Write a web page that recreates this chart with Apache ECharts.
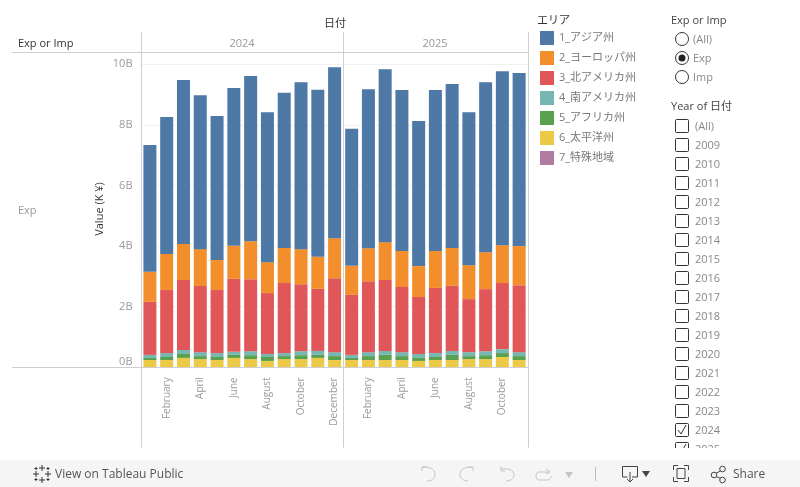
<!DOCTYPE html>
<html><head><meta charset="utf-8">
<script src="https://cdn.jsdelivr.net/npm/echarts@6/dist/echarts.min.js"></script>
<style>html,body{margin:0;padding:0;background:#fff}#c{width:800px;height:487px}</style>
</head><body><div id="c"></div>
<script>
const FONT = '"Open Sans","Noto Sans CJK JP",sans-serif';
const months2024 = ['January','February','March','April','May','June','July','August','September','October','November','December'];
const months2025 = ['January','February','March','April','May','June','July','August','September','October','November'];
const areas = ['1_アジア州','2_ヨーロッパ州','3_北アメリカ州','4_南アメリカ州','5_アフリカ州','6_太平洋州','7_特殊地域'];
const colors = ['#4e79a7','#f28e2b','#e15759','#76b7b2','#59a14f','#edc948','#b07aa1'];
// values in billions of yen
const asia2024 = [4.19,4.52,5.41,5.08,4.75,5.21,5.45,4.95,5.12,5.51,5.51,5.64];
const europe2024 = [0.99,1.19,1.19,1.22,0.99,1.09,1.25,1.02,1.16,1.16,1.06,1.32];
const northAm2024 = [1.75,2.08,2.31,2.18,2.08,2.41,2.38,2.01,2.31,2.21,2.05,2.44];
const southAm2024 = [0.10,0.13,0.13,0.13,0.13,0.10,0.13,0.10,0.10,0.13,0.13,0.13];
const africa2024 = [0.07,0.10,0.13,0.10,0.10,0.10,0.13,0.13,0.10,0.13,0.10,0.13];
const pacific2024 = [0.24,0.24,0.31,0.27,0.24,0.31,0.27,0.21,0.27,0.27,0.31,0.24];
const special2024 = [0,0,0,0,0,0,0,0,0,0,0,0];
const asia2025 = [4.52,5.25,5.71,5.31,4.79,5.31,5.41,5.05,5.61,5.74,5.71];
const europe2025 = [0.96,1.09,1.25,1.19,1.02,1.22,1.25,1.12,1.22,1.25,1.29];
const northAm2025 = [1.98,2.34,2.34,2.15,1.88,2.15,2.15,1.75,2.05,2.18,2.21];
const southAm2025 = [0.10,0.13,0.13,0.13,0.13,0.13,0.13,0.13,0.13,0.13,0.13];
const africa2025 = [0.07,0.13,0.17,0.13,0.10,0.10,0.17,0.10,0.13,0.13,0.13];
const pacific2025 = [0.24,0.24,0.24,0.24,0.21,0.24,0.24,0.27,0.27,0.34,0.24];
const special2025 = [0,0,0,0,0,0,0,0,0,0,0];
const yearFilter = ['(All)','2009','2010','2011','2012','2013','2014','2015','2016','2017','2018','2019','2020','2021','2022','2023','2024','2025'];
const checkedYears = ['2024','2025'];
const radioOptions = ['(All)','Exp','Imp'];
const selectedRadio = 'Exp';

const data2024 = [asia2024,europe2024,northAm2024,southAm2024,africa2024,pacific2024,special2024];
const data2025 = [asia2025,europe2025,northAm2025,southAm2025,africa2025,pacific2025,special2025];

const series = [];
for (let i = areas.length - 1; i >= 0; i--) {
  [[data2024,0,'a'],[data2025,1,'b']].forEach(([d,idx,st]) => series.push({
    name: areas[i], type:'bar', stack:st, xAxisIndex:idx, yAxisIndex:idx,
    barWidth:13, data:d[i], itemStyle:{color:colors[i]}, silent:true, animation:false
  }));
}
const xAxisBase = (cats) => ({
  type:'category', data:cats, axisLine:{show:false}, axisTick:{show:false}, splitLine:{show:false},
  axisLabel:{rotate:90, margin:10, fontSize:10, color:'#9a9a9a', fontFamily:FONT, interval:(i)=>i%2===1}
});
const gridLine = {show:true, lineStyle:{color:'#f0f0f0', width:1}};

const g = [];
const text = (x,y,t,o={}) => g.push({type:'text',x,y:y+1,z:o.z||5,rotation:o.rotation||0,style:{text:t,fontFamily:FONT,fontSize:o.size||11,fill:o.fill||'#666',fontWeight:o.weight||'normal',align:o.align||'left',verticalAlign:'middle'}});
const line = (x1,y1,x2,y2,c='#cfcfcf',w=1,z=3) => g.push({type:'line',z,shape:{x1,y1,x2,y2},style:{stroke:c,lineWidth:w}});

// headers and pane rules
line(12,52.5,528,52.5); line(12,367.5,528,367.5);
line(141.5,32,141.5,447.5); line(343.5,32,343.5,447.5); line(528.5,32,528.5,447.5);
text(335,23,'日付',{fill:'#333',align:'center',size:11});
text(18,43,'Exp or Imp',{fill:'#333',size:11});
text(242,43,'2024',{fill:'#999',align:'center'});
text(435,43,'2025',{fill:'#999',align:'center'});
text(18,210,'Exp',{fill:'#999',size:11});
text(100,208,'Value (K ¥)',{fill:'#333',align:'center',size:11,rotation:Math.PI/2});
// legend title
text(537,20,'エリア',{fill:'#333',size:11});
// radio filter
text(671,20,'Exp or Imp',{fill:'#444',size:11});
radioOptions.forEach((r,i)=>{
  const y=39+19*i;
  g.push({type:'circle',z:6,shape:{cx:682,cy:y,r:6.5},style:{stroke:'#333',fill:'#fff',lineWidth:1}});
  if(r===selectedRadio) g.push({type:'circle',z:7,shape:{cx:682,cy:y,r:3.5},style:{fill:'#222'}});
  text(693,y,r,{fill:'#888',size:11});
});
// year filter
text(671,106,'Year of 日付',{fill:'#444',size:11});
yearFilter.forEach((t,i)=>{
  const y=126+19*i;
  g.push({type:'rect',z:6,shape:{x:675.5,y:y-6.5,width:13,height:13,r:1},style:{stroke:'#333',fill:'#fff',lineWidth:1}});
  if(checkedYears.includes(t)) g.push({type:'polyline',z:7,shape:{points:[[678,y],[681,y+4],[686,y-5]]},style:{stroke:'#333',fill:'none',lineWidth:1}});
  text(695,y,t,{fill:'#888',size:11});
});
g.push({type:'rect',z:9,shape:{x:660,y:448,width:140,height:12},style:{fill:'#fff'}});
// toolbar
g.push({type:'rect',z:10,shape:{x:0,y:460,width:800,height:27},style:{fill:'#f5f5f5'}});
text(55,474,'View on Tableau Public',{z:11,fill:'#555',size:12,weight:500});
text(733,474,'Share',{z:11,fill:'#555',size:12,weight:500});
let iconId = 0;
const ic = (d,x,y,c='#bbb') => {
  const name = 'tbIcon' + (iconId++);
  echarts.graphic.registerShape(name, echarts.graphic.extendPath(d, {}));
  g.push({type:name,z:11,x,y,style:{stroke:c,lineWidth:1,fill:'none'}});
};
// Tableau logo
ic('M9 0V6M6 3H12M9 12V18M6 15H12M0 9H6M3 6V12M12 9H18M15 6V12M3 2V5M1.5 3.5H4.5M15 2V5M13.5 3.5H16.5M3 13V16M1.5 14.5H4.5M15 13V16M13.5 14.5H16.5',33,465,'#333');
// undo, redo, revert, refresh
ic('M6 1H1V5M1.5 1.5C8 0 14 3 14 8.5C14 13 10 15 6 15',421,466,'#c4c4c4');
ic('M9 1H14V5M13.5 1.5C7 0 1 3 1 8.5C1 13 5 15 9 15',459,466,'#c4c4c4');
ic('M1 0V5H5M1 3C8 2 14 4 14 9C14 13 10 15 6 15',500,466,'#c4c4c4');
ic('M10 1L14 4L10 6M14 4H3C1 4 0 5 0 8C0 11 2 12 4 12H12C14 12 15 10 15 8',536,468,'#c4c4c4');
g.push({type:'polygon',z:11,shape:{points:[[565,472],[573,472],[569,478]]},style:{fill:'#c4c4c4'}});
line(595.5,467,595.5,481,'#bbb',1,11);
ic('M0.5 0.5H15.5V11H10M5.5 11H0.5V0.5M8 6V16M5 13L8 16L11 13',622,466,'#444');
g.push({type:'polygon',z:11,shape:{points:[[642,471],[650,471],[646,477]]},style:{fill:'#444'}});
ic('M5 0.5H0.5V5M11 0.5H15.5V5M5 16.5H0.5V12M11 16.5H15.5V12M4 3.5H12V13.5H4Z',673,465,'#444');
ic('M3 8.5L11 4M3 9.5L11 13',711,466,'#444');
g.push({type:'circle',z:11,shape:{cx:714,cy:475,r:2.8},style:{stroke:'#444',fill:'#f5f5f5'}});
g.push({type:'circle',z:11,shape:{cx:722.5,cy:469,r:2.8},style:{stroke:'#444',fill:'#f5f5f5'}});
g.push({type:'circle',z:11,shape:{cx:722.5,cy:480,r:2.8},style:{stroke:'#444',fill:'#f5f5f5'}});

const chart = echarts.init(document.getElementById('c'),null,{renderer:'canvas'});
chart.setOption({
  animation:false, backgroundColor:'#fff',
  grid:[
    {left:141.5,width:201.5,top:64.3,height:303,containLabel:false},
    {left:343.3,width:184.2,top:64.3,height:303,containLabel:false}
  ],
  xAxis:[Object.assign({gridIndex:0},xAxisBase(months2024)),Object.assign({gridIndex:1},xAxisBase(months2025))],
  yAxis:[
    {type:'value',gridIndex:0,min:0,max:10,interval:2,axisLine:{show:false},axisTick:{show:false},splitLine:gridLine,
     axisLabel:{margin:9,fontSize:11,color:'#9a9a9a',fontFamily:FONT,verticalAlignMinLabel:'bottom',padding:[2,0,0,0],formatter:(v)=>v+'B'}},
    {type:'value',gridIndex:1,min:0,max:10,interval:2,axisLine:{show:false},axisTick:{show:false},splitLine:gridLine,axisLabel:{show:false}}
  ],
  legend:{orient:'vertical',left:540,top:31,itemWidth:14,itemHeight:14,itemGap:6,icon:'rect',selectedMode:false,
    data:areas,textStyle:{fontSize:11,color:'#777',fontFamily:FONT},padding:0,itemStyle:{borderWidth:0}},
  series,
  graphic:{elements:g}
});
</script></body></html>
